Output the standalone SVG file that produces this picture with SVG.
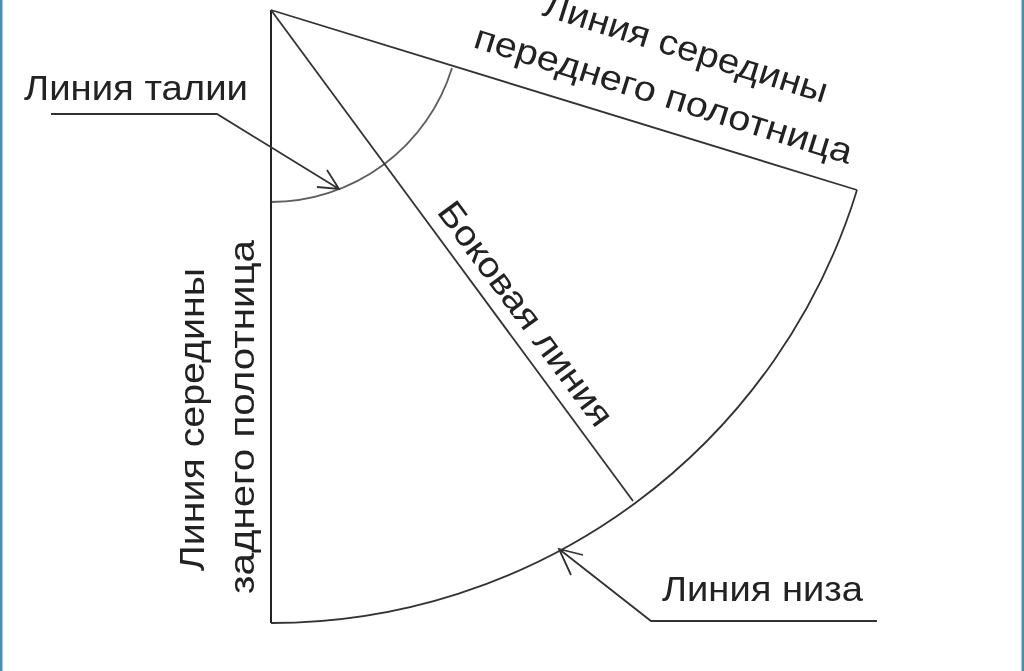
<svg xmlns="http://www.w3.org/2000/svg" width="1024" height="671" viewBox="0 0 1024 671">
<style>
text{font-family:"Liberation Sans",Arial,sans-serif;font-size:35px;fill:#222}
.l{fill:none;stroke:#333;stroke-width:1.8}
.t{fill:none;stroke:#222;stroke-width:2}
</style>
<defs><filter id="soft" x="0" y="0" width="100%" height="100%" filterUnits="userSpaceOnUse"><feGaussianBlur stdDeviation="0.55"/></filter></defs>
<rect width="1024" height="671" fill="#fff"/>
<rect x="0" y="0" width="2.5" height="671" fill="#4a8db5"/>
<rect x="1021.5" y="0" width="2.5" height="671" fill="#4a8db5"/>
<g filter="url(#soft)">
<g id="pattern">
<path class="t" d="M271 10V623"/>
<path class="l" d="M271 10L857 190"/>
<path class="l" d="M271 10L633 501"/>
<path class="l" d="M857 190A613 613 0 0 1 271 623"/>
<path class="l" stroke-opacity=".8" d="M452 68A190 190 0 0 1 271 202"/>
</g>
<g id="connectors">
<path class="l" d="M51 114H217L339 189M327 170L339 189L317 187"/>
<path class="l" d="M877 621H651L559 549M583 555L559 549L571 575"/>
</g>
<g id="label-waist"><text x="24" y="100" textLength="224" lengthAdjust="spacingAndGlyphs">Линия талии</text></g>
<g id="label-hem"><text x="662" y="601" textLength="201" lengthAdjust="spacingAndGlyphs">Линия низа</text></g>
<g id="label-front"><text transform="translate(541 15) rotate(17.3)" textLength="296" lengthAdjust="spacingAndGlyphs">Линия середины</text><text transform="translate(472 47) rotate(17.3)" textLength="394" lengthAdjust="spacingAndGlyphs">переднего полотница</text></g>
<g id="label-back"><text transform="translate(204 571) rotate(-90)" textLength="303" lengthAdjust="spacingAndGlyphs">Линия середины</text><text transform="translate(254 594) rotate(-90)" textLength="354" lengthAdjust="spacingAndGlyphs">заднего полотница</text></g>
<g id="label-side"><text transform="translate(436 212) rotate(53.6)" textLength="270" lengthAdjust="spacingAndGlyphs">Боковая линия</text></g>
</g>
</svg>
